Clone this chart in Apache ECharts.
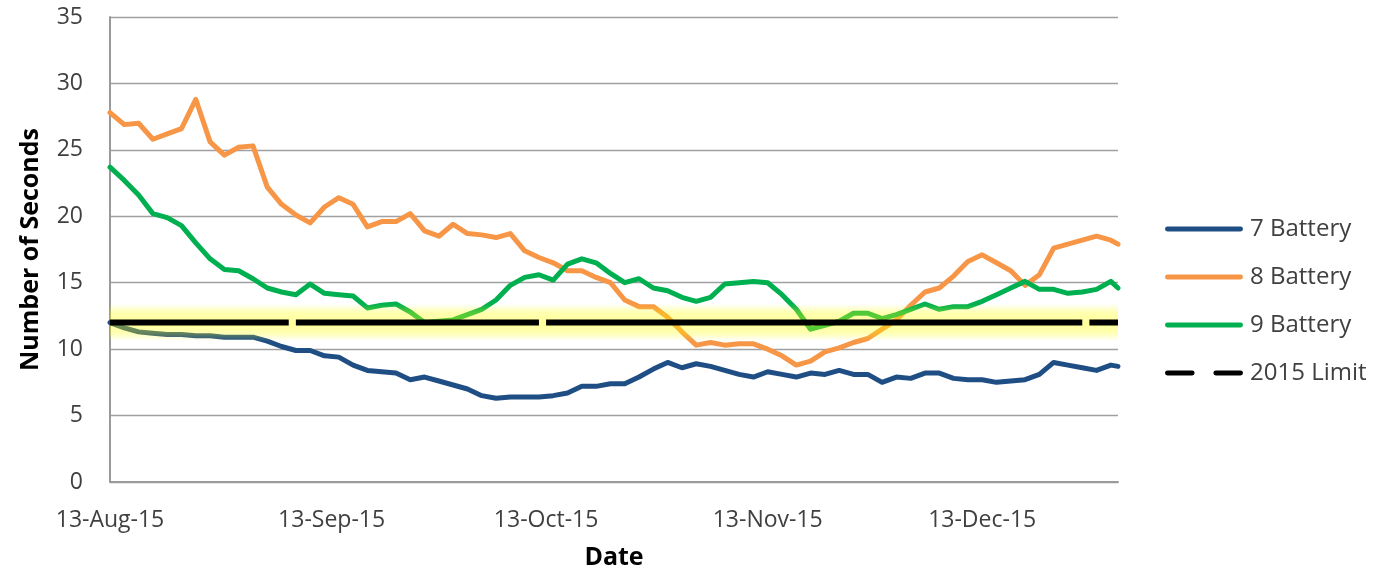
<!DOCTYPE html>
<html>
<head>
<meta charset="utf-8">
<script src="https://cdn.jsdelivr.net/npm/echarts@6/dist/echarts.min.js"></script>
<style>
  html, body { margin: 0; padding: 0; background: #fff; }
  #chart { width: 1375px; height: 568px; }
</style>
</head>
<body>
<div id="chart"></div>
<script>
// readings every second day, 13-Aug-15 .. 1-Jan-16
const dates = [
  '2015-08-13', '2015-08-15', '2015-08-17', '2015-08-19', '2015-08-21', '2015-08-23', '2015-08-25', '2015-08-27', '2015-08-29', '2015-08-31',
  '2015-09-02', '2015-09-04', '2015-09-06', '2015-09-08', '2015-09-10', '2015-09-12', '2015-09-14', '2015-09-16', '2015-09-18', '2015-09-20',
  '2015-09-22', '2015-09-24', '2015-09-26', '2015-09-28', '2015-09-30', '2015-10-02', '2015-10-04', '2015-10-06', '2015-10-08', '2015-10-10',
  '2015-10-12', '2015-10-14', '2015-10-16', '2015-10-18', '2015-10-20', '2015-10-22', '2015-10-24', '2015-10-26', '2015-10-28', '2015-10-30',
  '2015-11-01', '2015-11-03', '2015-11-05', '2015-11-07', '2015-11-09', '2015-11-11', '2015-11-13', '2015-11-15', '2015-11-17', '2015-11-19',
  '2015-11-21', '2015-11-23', '2015-11-25', '2015-11-27', '2015-11-29', '2015-12-01', '2015-12-03', '2015-12-05', '2015-12-07', '2015-12-09',
  '2015-12-11', '2015-12-13', '2015-12-15', '2015-12-17', '2015-12-19', '2015-12-21', '2015-12-23', '2015-12-25', '2015-12-27', '2015-12-29',
  '2015-12-31', '2016-01-01'
];
const battery7 = [
  12.0, 11.6, 11.3, 11.2, 11.1, 11.1, 11.0, 11.0, 10.9, 10.9,
  10.9, 10.6, 10.2, 9.9, 9.9, 9.5, 9.4, 8.8, 8.4, 8.3,
  8.2, 7.7, 7.9, 7.6, 7.3, 7.0, 6.5, 6.3, 6.4, 6.4,
  6.4, 6.5, 6.7, 7.2, 7.2, 7.4, 7.4, 7.9, 8.5, 9.0,
  8.6, 8.9, 8.7, 8.4, 8.1, 7.9, 8.3, 8.1, 7.9, 8.2,
  8.1, 8.4, 8.1, 8.1, 7.5, 7.9, 7.8, 8.2, 8.2, 7.8,
  7.7, 7.7, 7.5, 7.6, 7.7, 8.1, 9.0, 8.8, 8.6, 8.4,
  8.8, 8.7
];
const battery8 = [
  27.8, 26.9, 27.0, 25.8, 26.2, 26.6, 28.8, 25.6, 24.6, 25.2,
  25.3, 22.2, 20.9, 20.1, 19.5, 20.7, 21.4, 20.9, 19.2, 19.6,
  19.6, 20.2, 18.9, 18.5, 19.4, 18.7, 18.6, 18.4, 18.7, 17.4,
  16.9, 16.5, 15.9, 15.9, 15.4, 15.0, 13.7, 13.2, 13.2, 12.4,
  11.3, 10.3, 10.5, 10.3, 10.4, 10.4, 10.0, 9.5, 8.8, 9.1,
  9.8, 10.1, 10.5, 10.8, 11.5, 12.2, 13.3, 14.3, 14.6, 15.5,
  16.6, 17.1, 16.5, 15.9, 14.8, 15.6, 17.6, 17.9, 18.2, 18.5,
  18.2, 17.9
];
const battery9 = [
  23.7, 22.7, 21.6, 20.2, 19.9, 19.3, 18.0, 16.8, 16.0, 15.9,
  15.3, 14.6, 14.3, 14.1, 14.9, 14.2, 14.1, 14.0, 13.1, 13.3,
  13.4, 12.8, 12.0, 12.1, 12.2, 12.6, 13.0, 13.7, 14.8, 15.4,
  15.6, 15.2, 16.4, 16.8, 16.5, 15.7, 15.0, 15.3, 14.6, 14.4,
  13.9, 13.6, 13.9, 14.9, 15.0, 15.1, 15.0, 14.1, 13.0, 11.5,
  11.8, 12.1, 12.7, 12.7, 12.3, 12.6, 13.0, 13.4, 13.0, 13.2,
  13.2, 13.6, 14.1, 14.6, 15.1, 14.5, 14.5, 14.2, 14.3, 14.5,
  15.1, 14.6
];
const limitValue = 12;
// the limit line shows a short break the day after each of these
const limitBreaks = ['2015-09-07', '2015-10-12', '2015-12-27'];
const axisStart = '2015-08-13';
const axisEnd = '2016-01-01';
const tickDates = ['2015-08-13', '2015-09-13', '2015-10-13', '2015-11-13', '2015-12-13'];
const monthNames = ['Jan', 'Feb', 'Mar', 'Apr', 'May', 'Jun', 'Jul', 'Aug', 'Sep', 'Oct', 'Nov', 'Dec'];

const DAY = 86400000;
const FONT = '"Open Sans", "Liberation Sans", sans-serif';
const GLOW = 1.4; // half height of the yellow glow round the limit, in seconds

function toTime(s) {
  const p = s.split('-');
  return Date.UTC(+p[0], +p[1] - 1, +p[2]);
}
// x is counted in days from the first date
function dayOf(s) {
  return Math.round((toTime(s) - toTime(axisStart)) / DAY);
}
function pairs(values) {
  return dates.map((d, i) => [dayOf(d), values[i]]);
}
function fmtDay(v) {
  const d = new Date(toTime(axisStart) + v * DAY);
  return d.getUTCDate() + '-' + monthNames[d.getUTCMonth()] + '-' + String(d.getUTCFullYear()).slice(2);
}

const limitData = [[0, limitValue]];
limitBreaks.forEach(b => {
  const x = dayOf(b);
  limitData.push([x, limitValue], [x, '-'], [x + 1, limitValue]);
});
limitData.push([dayOf(axisEnd), limitValue]);

function batteryLine(name, values, color) {
  return {
    name: name,
    type: 'line',
    data: pairs(values),
    symbol: 'none',
    z: 2,
    itemStyle: { color: color },
    lineStyle: { color: color, width: 5, cap: 'round', join: 'round' }
  };
}

// legend keys: a solid bar, and two dashes for the limit
const solidKey = 'path://M2,0H76A2,2 0 0 1 76,5H2A2,2 0 0 1 2,0Z';
const dashKey = 'path://M2,0H27A2,2 0 0 1 27,5H2A2,2 0 0 1 2,0Z M51,0H76A2,2 0 0 1 76,5H51A2,2 0 0 1 51,0Z';

const chart = echarts.init(document.getElementById('chart'));
chart.setOption({
  animation: false,
  backgroundColor: '#fff',
  grid: { left: 110, right: 257, top: 17, bottom: 86, outerBoundsMode: 'none' },
  legend: {
    orient: 'vertical',
    left: 1165,
    top: 217,
    padding: 0,
    itemWidth: 78,
    itemHeight: 5,
    itemGap: 24,
    textStyle: { fontFamily: FONT, fontSize: 24, color: '#404040', padding: [0, 0, 0, 2] },
    data: [
      { name: '7 Battery', icon: solidKey },
      { name: '8 Battery', icon: solidKey },
      { name: '9 Battery', icon: solidKey },
      { name: '2015 Limit', icon: dashKey }
    ]
  },
  xAxis: {
    type: 'value',
    min: 0,
    max: dayOf(axisEnd),
    name: 'Date',
    nameLocation: 'middle',
    nameGap: 63,
    nameTextStyle: { fontFamily: FONT, fontSize: 25, fontWeight: 'bold', color: '#000' },
    axisLine: { lineStyle: { color: '#9a9a9a', width: 2 } },
    axisTick: { show: false },
    splitLine: { show: false },
    axisLabel: {
      customValues: tickDates.map(dayOf),
      formatter: fmtDay,
      margin: 27,
      fontFamily: FONT,
      fontSize: 23,
      color: '#404040'
    }
  },
  yAxis: {
    type: 'value',
    min: 0,
    max: 35,
    interval: 5,
    name: 'Number of Seconds',
    nameLocation: 'middle',
    nameGap: 67,
    nameTextStyle: { fontFamily: FONT, fontSize: 25, fontWeight: 'bold', color: '#000' },
    axisLine: { show: true, lineStyle: { color: '#9a9a9a', width: 2 } },
    axisTick: { show: false },
    splitLine: { lineStyle: { color: '#a0a0a0', width: 1.3 } },
    axisLabel: { margin: 27, fontFamily: FONT, fontSize: 23, color: '#404040' }
  },
  series: [
    batteryLine('7 Battery', battery7, '#1f4e85'),
    batteryLine('8 Battery', battery8, '#f79646'),
    batteryLine('9 Battery', battery9, '#00b050'),
    {
      name: '2015 Limit',
      type: 'line',
      data: limitData,
      symbol: 'none',
      z: 4,
      itemStyle: { color: '#000' },
      lineStyle: { color: '#000', width: 6, cap: 'butt' },
      markArea: {
        z: 3,
        silent: true,
        itemStyle: {
          color: new echarts.graphic.LinearGradient(0, 0, 0, 1, [
            { offset: 0, color: 'rgba(255,255,0,0)' },
            { offset: 0.22, color: 'rgba(255,255,0,0.3)' },
            { offset: 0.5, color: 'rgba(255,255,0,0.4)' },
            { offset: 0.78, color: 'rgba(255,255,0,0.3)' },
            { offset: 1, color: 'rgba(255,255,0,0)' }
          ])
        },
        data: [[{ yAxis: limitValue - GLOW }, { yAxis: limitValue + GLOW }]]
      }
    }
  ]
});
</script>
</body>
</html>
